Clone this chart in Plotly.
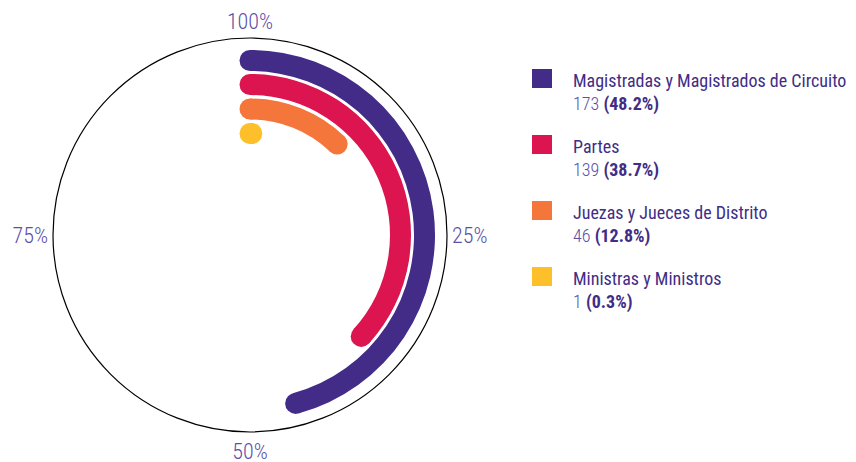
import plotly.graph_objects as go

# ---- data ----
categories = ["Magistradas y Magistrados de Circuito", "Partes",
              "Juezas y Jueces de Distrito", "Ministras y Ministros"]
counts = [173, 139, 46, 1]
percents = [48.2, 38.7, 12.8, 0.3]
tick_vals = [0, 25, 50, 75]
tick_text = ["100%", "25%", "50%", "75%"]

# ---- style ----
colors = ["#432c87", "#dc1450", "#f5763a", "#fdc02a"]
band_base = [164, 140, 115.5, 91]
band_thick = 21
ARC_SCALE = 0.95          # drawn arc length relative to full 360deg
FONT = "Roboto Condensed, DejaVu Sans Condensed, sans-serif"
TXT = "#3f2d86"
LIGHT = "#5b4fa8"

W, H = 856, 462

fig = go.Figure()
for cat, p, col, base in zip(categories, percents, colors, band_base):
    end = p * 3.6 * ARC_SCALE
    fig.add_trace(go.Barpolar(
        r=[band_thick], base=[base], theta=[end / 2], width=[max(end, 0.01)],
        marker=dict(color=col, line=dict(width=0)),
        name=cat, showlegend=False, hoverinfo="skip"))
    fig.add_trace(go.Scatterpolar(
        r=[base + band_thick / 2] * 2, theta=[0, end], mode="markers",
        marker=dict(size=band_thick, color=col, line=dict(width=0)),
        showlegend=False, hoverinfo="skip"))

fig.update_layout(
    width=W, height=H,
    margin=dict(l=0, r=0, t=0, b=0, autoexpand=False),
    paper_bgcolor="white",
    plot_bgcolor="white",
    polar=dict(
        domain=dict(x=[53 / W, 447 / W], y=[(H - 432) / H, (H - 38) / H]),
        bgcolor="white",
        bargap=0,
        radialaxis=dict(visible=False, range=[0, 197]),
        angularaxis=dict(
            rotation=90, direction="clockwise",
            tickmode="array", tickvals=[v * 3.6 for v in tick_vals],
            ticktext=tick_text, ticks="", showgrid=False,
            showline=True, linecolor="black", linewidth=1.2,
            tickfont=dict(family=FONT, size=22, color=LIGHT, weight=300),
        ),
    ),
)

# ---- custom legend ----
top0 = 69
pitch = 66
for i, (cat, c, p, col) in enumerate(zip(categories, counts, percents, colors)):
    y = top0 + i * pitch
    fig.add_shape(type="rect", xref="paper", yref="paper",
                  x0=532 / W, x1=552 / W, y0=(H - y) / H, y1=(H - y - 19) / H,
                  fillcolor=col, line=dict(width=0))
    fig.add_annotation(
        xref="paper", yref="paper", x=571 / W, y=(H - y + 1) / H,
        xanchor="left", yanchor="top", showarrow=False, align="left",
        text=(f"{cat}<br><span style='color:{LIGHT};font-weight:300'>{c}</span> "
              f"<b>({p}%)</b>"),
        font=dict(family=FONT, size=18, color=TXT))

fig.write_html("out.html",
               config={"displayModeBar": False},
               post_script="document.body.style.margin='0';"
                           "document.body.style.overflow='hidden';")
